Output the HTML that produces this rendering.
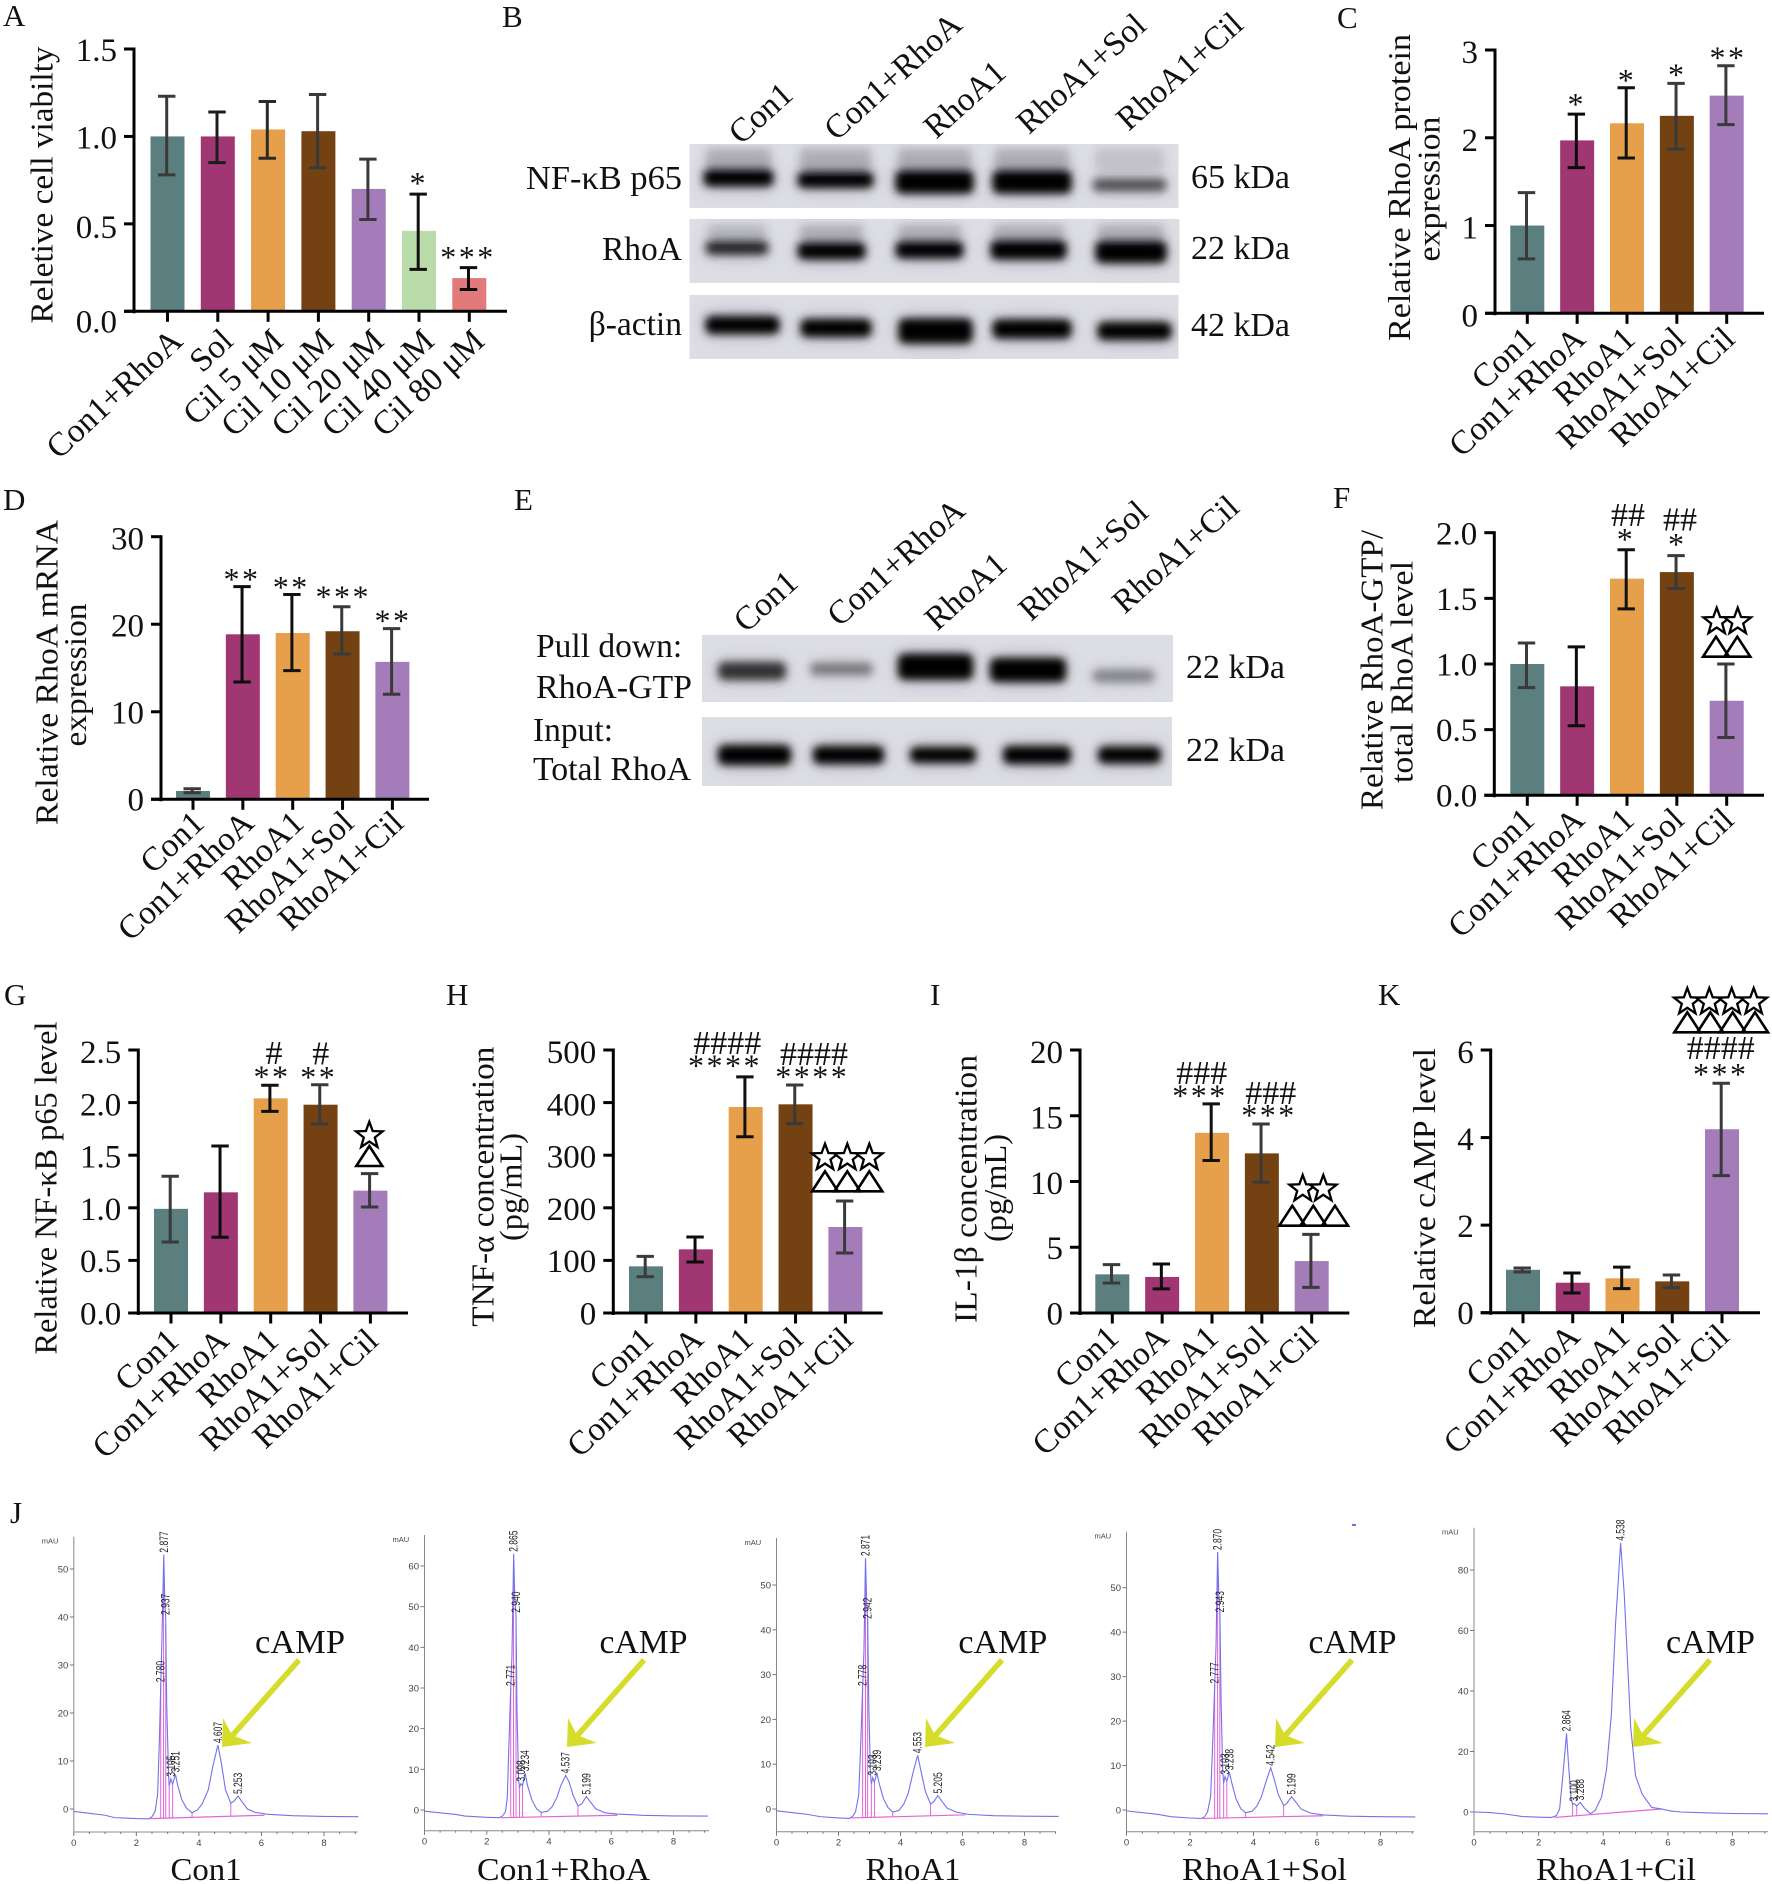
<!DOCTYPE html>
<html lang="en">
<head>
<meta charset="utf-8">
<title>RhoA multi-panel figure</title>
<style>
html,body{margin:0;padding:0;background:#fff;}
svg{display:block;}
text{font-family:"Liberation Serif","Noto Serif CJK SC",serif;fill:#111;}
.letter{font-size:31px;}
.title{font-size:32px;text-anchor:middle;}
.tick{font-size:33px;text-anchor:end;}
.cat{font-size:33.5px;text-anchor:end;}
.ast{font-size:32px;text-anchor:middle;letter-spacing:2.5px;}
.hash{font-size:34px;text-anchor:middle;}
.blot{font-size:33.5px;}
.lane{font-size:33.5px;text-anchor:end;}
.camp{font-size:34px;}
.cond{font-size:32px;text-anchor:middle;}
.hplc{font-family:"Liberation Sans",sans-serif;fill:#444;font-size:9.5px;}
.peak{font-family:"Liberation Sans",sans-serif;fill:#222;font-size:8.5px;}
</style>
</head>
<body>
<svg id="figure" xmlns="http://www.w3.org/2000/svg" width="1772" height="1884" viewBox="0 0 1772 1884">
<defs>
  <filter id="bandBlur" x="-20%" y="-80%" width="140%" height="260%"><feGaussianBlur stdDeviation="4.2"/></filter>
  <filter id="haloBlur" x="-30%" y="-120%" width="160%" height="340%"><feGaussianBlur stdDeviation="9"/></filter>
  <polygon id="star" points="0,-14 3.4,-4.7 13.3,-4.3 5.5,1.8 8.2,11.3 0,5.8 -8.2,11.3 -5.5,1.8 -13.3,-4.3 -3.4,-4.7" fill="#fff" stroke="#000" stroke-width="2.3"/>
  <polygon id="tri" points="0,-20 13,0 -13,0" fill="none" stroke="#000" stroke-width="2.6"/>
</defs>
<rect width="1772" height="1884" fill="#fff"/>

<!-- panel letters -->
<text class="letter" x="3" y="26">A</text>
<text class="letter" x="502" y="27">B</text>
<text class="letter" x="1337" y="28">C</text>
<text class="letter" x="3" y="510">D</text>
<text class="letter" x="514" y="510">E</text>
<text class="letter" x="1333" y="508">F</text>
<text class="letter" x="4" y="1005">G</text>
<text class="letter" x="446" y="1005">H</text>
<text class="letter" x="930" y="1005">I</text>
<text class="letter" x="1378" y="1005">K</text>
<text class="letter" x="10" y="1523">J</text>

<!-- y axis titles -->
<text class="title" transform="translate(52.7,185) rotate(-90)" textLength="277" lengthAdjust="spacingAndGlyphs">Reletive cell viabilty</text>
<text class="title" transform="translate(1410,187.5) rotate(-90)" textLength="307" lengthAdjust="spacingAndGlyphs">Relative RhoA protein</text>
<text class="title" transform="translate(1439.3,189) rotate(-90)" textLength="145" lengthAdjust="spacingAndGlyphs">expression</text>
<text class="title" transform="translate(57.3,672.5) rotate(-90)" textLength="305" lengthAdjust="spacingAndGlyphs">Relative RhoA mRNA</text>
<text class="title" transform="translate(86,675) rotate(-90)" textLength="143" lengthAdjust="spacingAndGlyphs">expression</text>
<text class="title" transform="translate(1382.7,670) rotate(-90)" textLength="280" lengthAdjust="spacingAndGlyphs">Relative RhoA-GTP/</text>
<text class="title" transform="translate(1412.7,672) rotate(-90)" textLength="222" lengthAdjust="spacingAndGlyphs">total RhoA level</text>
<text class="title" transform="translate(56.7,1188) rotate(-90)" textLength="333" lengthAdjust="spacingAndGlyphs">Relative NF-κB p65 level</text>
<text class="title" transform="translate(493.3,1186.7) rotate(-90)" textLength="280" lengthAdjust="spacingAndGlyphs">TNF-α concentration</text>
<text class="title" transform="translate(521.7,1187) rotate(-90)" textLength="108" lengthAdjust="spacingAndGlyphs">(pg/mL)</text>
<text class="title" transform="translate(976.7,1189) rotate(-90)" textLength="268" lengthAdjust="spacingAndGlyphs">IL-1β concentration</text>
<text class="title" transform="translate(1006,1188) rotate(-90)" textLength="108" lengthAdjust="spacingAndGlyphs">(pg/mL)</text>
<text class="title" transform="translate(1435,1188) rotate(-90)" textLength="280" lengthAdjust="spacingAndGlyphs">Relative cAMP level</text>

<!-- groups filled by script -->
<g id="blots"></g>
<g id="charts"></g>
<g id="hplc"></g>

<!-- blot B labels -->
<text class="lane" transform="translate(795,97) rotate(-42)">Con1</text>
<text class="lane" transform="translate(964,27) rotate(-42)">Con1+RhoA</text>
<text class="lane" transform="translate(1008,75) rotate(-42)">RhoA1</text>
<text class="lane" transform="translate(1148,28) rotate(-42)">RhoA1+Sol</text>
<text class="lane" transform="translate(1245,27) rotate(-42)">RhoA1+Cil</text>
<text class="blot" x="682" y="189" text-anchor="end" textLength="156" lengthAdjust="spacingAndGlyphs">NF-κB p65</text>
<text class="blot" x="682" y="260" text-anchor="end">RhoA</text>
<text class="blot" x="682" y="335" text-anchor="end">β-actin</text>
<text class="blot" x="1191" y="188" textLength="99" lengthAdjust="spacingAndGlyphs">65 kDa</text>
<text class="blot" x="1191" y="259" textLength="99" lengthAdjust="spacingAndGlyphs">22 kDa</text>
<text class="blot" x="1191" y="336" textLength="99" lengthAdjust="spacingAndGlyphs">42 kDa</text>

<!-- blot E labels -->
<text class="lane" transform="translate(800,585) rotate(-42)">Con1</text>
<text class="lane" transform="translate(967,513) rotate(-42)">Con1+RhoA</text>
<text class="lane" transform="translate(1009,567) rotate(-42)">RhoA1</text>
<text class="lane" transform="translate(1150,515) rotate(-42)">RhoA1+Sol</text>
<text class="lane" transform="translate(1241,510) rotate(-42)">RhoA1+Cil</text>
<text class="blot" x="536" y="657">Pull down:</text>
<text class="blot" x="536" y="698" textLength="156" lengthAdjust="spacingAndGlyphs">RhoA-GTP</text>
<text class="blot" x="533" y="741">Input:</text>
<text class="blot" x="533" y="780" textLength="158" lengthAdjust="spacingAndGlyphs">Total RhoA</text>
<text class="blot" x="1186" y="678" textLength="99" lengthAdjust="spacingAndGlyphs">22 kDa</text>
<text class="blot" x="1186" y="761" textLength="99" lengthAdjust="spacingAndGlyphs">22 kDa</text>

<!-- significance marks -->
<g>
  <text class="ast" x="418.7" y="194">*</text><text class="ast" x="468" y="268">***</text>
</g>
<g>
  <text class="ast" x="1576.7" y="115">*</text><text class="ast" x="1627" y="91">*</text><text class="ast" x="1677.3" y="85.7">*</text><text class="ast" x="1728" y="68.3">**</text>
</g>
<g>
  <text class="ast" x="242" y="590">**</text><text class="ast" x="291.3" y="598">**</text><text class="ast" x="343.3" y="607.3">***</text><text class="ast" x="393" y="631.7">**</text>
</g>
<g>
  <text class="ast" x="1626" y="550">*</text><text class="ast" x="1677.3" y="555">*</text>
  <text class="hash" x="1628" y="525.8">##</text><text class="hash" x="1680" y="530.5">##</text>
  <use href="#tri" x="1716" y="656.7"/><use href="#tri" x="1737.3" y="656.7"/>
  <use href="#star" x="1716.7" y="621.7"/><use href="#star" x="1737.7" y="621.7"/>
</g>
<g>
  <text class="hash" x="274" y="1064.2">#</text><text class="ast" x="272" y="1087.7">**</text>
  <text class="hash" x="320.7" y="1064.5">#</text><text class="ast" x="318.7" y="1088">**</text>
  <use href="#tri" x="369.3" y="1166"/><use href="#star" x="369.3" y="1135.7"/>
</g>
<g>
  <text class="hash" x="727.3" y="1054.2">####</text><text class="ast" x="725" y="1076.7">****</text>
  <text class="hash" x="814" y="1064.8">####</text><text class="ast" x="812.3" y="1087.3">****</text>
  <use href="#tri" x="825" y="1191.3"/><use href="#tri" x="847.3" y="1191.3"/><use href="#tri" x="869.3" y="1191.3"/>
  <use href="#star" x="825" y="1157.7"/><use href="#star" x="847.3" y="1157.7"/><use href="#star" x="869.3" y="1157.7"/>
</g>
<g>
  <text class="hash" x="1201.7" y="1084.2">###</text><text class="ast" x="1200" y="1106.7">***</text>
  <text class="hash" x="1270.7" y="1103.8">###</text><text class="ast" x="1269" y="1126">***</text>
  <use href="#tri" x="1292.3" y="1225.7"/><use href="#tri" x="1313.3" y="1225.7"/><use href="#tri" x="1335" y="1225.7"/>
  <use href="#star" x="1302.7" y="1189"/><use href="#star" x="1323.3" y="1189"/>
</g>
<g>
  <text class="hash" x="1720.7" y="1058.8">####</text><text class="ast" x="1720.7" y="1085">***</text>
  <use href="#tri" x="1687.3" y="1032.3"/><use href="#tri" x="1710.3" y="1032.3"/><use href="#tri" x="1732.7" y="1032.3"/><use href="#tri" x="1755" y="1032.3"/>
  <use href="#star" x="1687.3" y="1002"/><use href="#star" x="1709.3" y="1002"/><use href="#star" x="1731.7" y="1002"/><use href="#star" x="1753.7" y="1002"/>
</g>

<!-- chromatogram annotations -->
<text class="camp" x="255" y="1653" textLength="90" lengthAdjust="spacingAndGlyphs">cAMP</text>
<text class="camp" x="599.5" y="1653" textLength="88" lengthAdjust="spacingAndGlyphs">cAMP</text>
<text class="camp" x="958.4" y="1653" textLength="89" lengthAdjust="spacingAndGlyphs">cAMP</text>
<text class="camp" x="1308.5" y="1653" textLength="88" lengthAdjust="spacingAndGlyphs">cAMP</text>
<text class="camp" x="1666" y="1653" textLength="89" lengthAdjust="spacingAndGlyphs">cAMP</text>
<text class="cond" x="206" y="1880" textLength="71" lengthAdjust="spacingAndGlyphs">Con1</text>
<text class="cond" x="563.5" y="1880" textLength="173" lengthAdjust="spacingAndGlyphs">Con1+RhoA</text>
<text class="cond" x="913" y="1880" textLength="95" lengthAdjust="spacingAndGlyphs">RhoA1</text>
<text class="cond" x="1264.5" y="1880" textLength="165" lengthAdjust="spacingAndGlyphs">RhoA1+Sol</text>
<text class="cond" x="1616" y="1880" textLength="160" lengthAdjust="spacingAndGlyphs">RhoA1+Cil</text>
<rect x="1352" y="1524" width="4" height="2" fill="#6a6af0"/>
</svg>

<script>
// ---------- bar chart data ----------
const catsFive = ['Con1','Con1+RhoA','RhoA1','RhoA1+Sol','RhoA1+Cil'];
const catsA = ['Con1+RhoA','Sol','Cil 5 μM','Cil 10 μM','Cil 20 μM','Cil 40 μM','Cil 80 μM'];

const ticksA = ['0.0','0.5','1.0','1.5'];
const meanA = [1.0,1.0,1.04,1.03,0.70,0.46,0.19];
const upperA = [1.23,1.14,1.20,1.24,0.87,0.67,0.25];
const lowerA = [0.78,0.85,0.875,0.82,0.525,0.24,0.125];

const ticksC = ['0','1','2','3'];
const meanC = [1.0,1.97,2.165,2.25,2.48];
const upperC = [1.375,2.27,2.57,2.62,2.82];
const lowerC = [0.62,1.66,1.77,1.87,2.15];

const ticksD = ['0','10','20','30'];
const meanD = [0.95,18.85,19.0,19.2,15.7];
const upperD = [1.2,24.3,23.4,22.0,19.5];
const lowerD = [0.75,13.4,14.7,16.6,12.0];

const ticksF = ['0.0','0.5','1.0','1.5','2.0'];
const meanF = [1.0,0.83,1.65,1.70,0.72];
const upperF = [1.16,1.13,1.87,1.825,1.0];
const lowerF = [0.82,0.53,1.42,1.575,0.44];

const ticksG = ['0.0','0.5','1.0','1.5','2.0','2.5'];
const meanG = [0.99,1.147,2.04,1.98,1.163];
const upperG = [1.30,1.587,2.165,2.17,1.325];
const lowerG = [0.675,0.72,1.917,1.797,1.008];

const ticksH = ['0','100','200','300','400','500'];
const meanH = [88.7,121,391.6,396.7,163.5];
const upperH = [107.7,144.5,449,433.5,213];
const lowerH = [69,97,335,360,114];

const ticksI = ['0','5','10','15','20'];
const meanI = [2.94,2.74,13.7,12.14,3.95];
const upperI = [3.68,3.73,15.9,14.37,5.98];
const lowerI = [2.28,1.83,11.6,9.94,1.95];

const ticksK = ['0','2','4','6'];
const meanK = [0.98,0.685,0.785,0.716,4.19];
const upperK = [1.02,0.906,1.04,0.86,5.24];
const lowerK = [0.93,0.45,0.55,0.57,3.13];

// ---------- chromatogram data (retention time, mAU) ----------
const trace1Time = [0,.5,1,1.3,2,2.4,2.5,2.6,2.68,2.74,2.78,2.82,2.877,2.91,2.937,2.97,3.03,3.05,3.105,3.16,3.251,3.32,3.45,3.6,3.78,3.95,4.1,4.3,4.45,4.607,4.72,4.85,5.02,5.12,5.253,5.38,5.55,5.8,6.2,7,8,9.1];
const trace1Signal = [-.5,-.9,-1.3,-1.8,-2,-2.05,-1.6,-.5,3,15,26,36,53,43,40,22,7,4.8,6.3,5.2,7.2,5,2,.2,-.8,-.2,1,4,9,13.3,9.5,4,1.2,1.6,2.7,1.5,0,-.7,-1.1,-1.4,-1.55,-1.6];
const trace2Time = [0,.5,1,1.3,2,2.4,2.5,2.6,2.66,2.72,2.771,2.81,2.865,2.9,2.94,2.97,3.02,3.05,3.098,3.15,3.234,3.31,3.45,3.6,3.75,3.95,4.1,4.25,4.38,4.537,4.65,4.78,4.93,5.05,5.199,5.33,5.5,5.8,6.2,7,8,9.1];
const trace2Signal = [-.3,-.7,-1.1,-1.5,-1.8,-1.9,-1.5,-.5,3,18,30,38,63,52,48,25,8,5.5,6.5,6,9,6,2.5,.3,-.6,-.3,.8,3,6,8.5,6.8,3.5,1,1.5,3.3,2,.3,-.7,-1,-1.3,-1.45,-1.5];
const trace3Time = [0,.5,1,1.4,2,2.35,2.45,2.55,2.65,2.72,2.778,2.82,2.871,2.91,2.942,2.98,3.03,3.06,3.103,3.16,3.239,3.32,3.45,3.6,3.75,3.95,4.1,4.25,4.4,4.553,4.66,4.8,4.97,5.07,5.205,5.33,5.5,5.8,6.2,7,8,9.1];
const trace3Signal = [-.4,-.8,-1.2,-1.7,-2,-2.1,-1.7,-.6,3,15,27,35,56,46,42,22,8,5.5,7,6,8,5.5,2.3,.3,-.7,-.3,1,3.5,8,12,8.5,4,1.1,1.6,3,1.8,.2,-.7,-1.2,-1.5,-1.6,-1.65];
const trace4Time = [0,.5,1,1.4,2,2.35,2.45,2.55,2.65,2.72,2.777,2.82,2.87,2.91,2.943,2.98,3.03,3.06,3.103,3.16,3.238,3.32,3.45,3.6,3.75,3.95,4.1,4.25,4.4,4.542,4.65,4.78,4.95,5.05,5.199,5.33,5.5,5.8,6.2,7,8,9.1];
const trace4Signal = [-.2,-.6,-1,-1.5,-1.8,-1.9,-1.6,-.5,3,16,28,37,58,48,44,24,9,6,7.5,6.5,8.5,6,2.5,.3,-.6,-.3,.8,3,6.5,9.5,7,3.5,1,1.5,3,1.8,.2,-.7,-1.1,-1.4,-1.5,-1.55];
const trace5Time = [0,.5,1,1.5,2,2.4,2.55,2.65,2.75,2.864,2.93,3,3.05,3.1,3.18,3.288,3.4,3.6,3.75,3.95,4.1,4.25,4.38,4.538,4.65,4.75,4.85,5,5.2,5.5,5.8,6.1,6.4,7.3,8,9.1];
const trace5Signal = [0,-.2,-.7,-1.5,-1.7,-1.8,-1.2,1,12,26,15,5,2.5,2.8,2,3.2,1.5,-.6,.5,5,14,32,62,89,72,50,28,12,6,1.5,1,.3,0,-.3,-.5,-.6];

const peak1Labels = ['2.780','2.877','2.937','3.105','3.251','4.607','5.253'];
const peak1Times = [2.78,2.877,2.937,3.105,3.251,4.607,5.253];
const peak1Heights = [26,53,40,6.3,7.2,13.3,2.7];
const peak2Labels = ['2.771','2.865','2.940','3.098','3.234','4.537','5.199'];
const peak2Times = [2.771,2.865,2.94,3.098,3.234,4.537,5.199];
const peak2Heights = [30,63,48,6.5,9,8.5,3.3];
const peak3Labels = ['2.778','2.871','2.942','3.103','3.239','4.553','5.205'];
const peak3Times = [2.778,2.871,2.942,3.103,3.239,4.553,5.205];
const peak3Heights = [27,56,42,7,8,12,3];
const peak4Labels = ['2.777','2.870','2.943','3.103','3.238','4.542','5.199'];
const peak4Times = [2.777,2.87,2.943,3.103,3.238,4.542,5.199];
const peak4Heights = [28,58,44,7.5,8.5,9.5,3];
const peak5Labels = ['2.864','3.100','3.288','4.538'];
const peak5Times = [2.864,3.1,3.288,4.538];
const peak5Heights = [26,2.8,3.2,89];

const drop1Times = [2.78,2.87,2.94,3.05,3.16,3.78,5.02];
const drop2Times = [2.771,2.86,2.94,3.05,3.15,3.75,4.93];
const drop3Times = [2.778,2.87,2.94,3.06,3.16,3.75,4.97];
const drop4Times = [2.777,2.87,2.94,3.06,3.16,3.75,4.95];
const drop5Times = [3.05,3.18,3.6];
const integ1Times = [2.45,6.1];
const integ1Values = [-2,-1.3];
const integ2Times = [2.45,6.2];
const integ2Values = [-1.9,-1.3];
const integ3Times = [2.4,6.1];
const integ3Values = [-2,-1.3];
const integ4Times = [2.4,6.2];
const integ4Values = [-1.9,-1.3];
const integ5Times = [2.5,5.8];
const integ5Values = [-1.8,1];

const yTicks1 = [0,10,20,30,40,50];
const yTicks2 = [0,10,20,30,40,50,60];
const yTicks3 = [0,10,20,30,40,50];
const yTicks4 = [0,10,20,30,40,50];
const yTicks5 = [0,20,40,60,80];
const xTicksHplc = [0,2,4,6,8];

// ---------- helpers ----------
const NS = 'http://www.w3.org/2000/svg';
function mk(parent, tag, attrs, name, text) {
  const el = document.createElementNS(NS, tag);
  for (const k in attrs) el.setAttribute(k, attrs[k]);
  
  
  if (text !== undefined) el.textContent = text;
  parent.appendChild(el);
  return el;
}

// ---------- bar charts ----------
const paletteFive = ['#5b7f7e','#a03672','#e69f4a','#744212','#a47cb9'];
const paletteA = ['#5b7f7e','#a03672','#e69f4a','#744212','#a47cb9','#b9dcaa','#e27a7b'];
const errColorsFive = ['#3a3a3a','#0c0c0c','#111','#3a3a3a','#3a3a3a'];
const errColorsA = ['#3a3a3a','#1c1c1c','#2a2a2a','#3a3a3a','#3a3a3a','#111','#0c0c0c'];

function drawBars(id, g, o, cats, mean, up, lo, ticks) {
  const root = mk(g, 'g', {}, 'panel-' + id + '-chart');
  const xScale = i => o.first + o.step * i;
  const yScale = v => o.y0 - (v / o.max) * (o.y0 - o.top);
  const pal = mean.length === 7 ? paletteA : paletteFive;
  const errs = mean.length === 7 ? errColorsA : errColorsFive;
  mean.forEach((v, i) => {
    mk(root, 'rect', {x: xScale(i) - 17, y: yScale(v), width: 34, height: o.y0 - yScale(v), fill: pal[i]}, id + '-bar-' + cats[i]);
  });
  mean.forEach((v, i) => {
    const c = errs[i], ex = xScale(i) - 0.8;
    const eg = mk(root, 'g', {stroke: c, 'stroke-width': 3, fill: 'none'}, id + '-error-bar-' + cats[i]);
    mk(eg, 'line', {x1: ex, x2: ex, y1: yScale(up[i]), y2: yScale(lo[i])}, id + '-error-stem');
    mk(eg, 'line', {x1: ex - 8.7, x2: ex + 8.7, y1: yScale(up[i]), y2: yScale(up[i])}, id + '-error-cap-upper');
    mk(eg, 'line', {x1: ex - 8.7, x2: ex + 8.7, y1: yScale(lo[i]), y2: yScale(lo[i])}, id + '-error-cap-lower');
  });
  mk(root, 'line', {x1: o.axis, x2: o.axis, y1: o.top - 1.5, y2: o.y0 + 2, stroke: '#000', 'stroke-width': 3}, id + '-y-axis');
  mk(root, 'line', {x1: o.axis - 10, x2: o.end, y1: o.y0, y2: o.y0, stroke: '#000', 'stroke-width': 3}, id + '-x-axis');
  ticks.forEach((t, i) => {
    const v = parseFloat(t), y = yScale(v);
    mk(root, 'line', {x1: o.axis - 10, x2: o.axis, y1: y, y2: y, stroke: '#000', 'stroke-width': 3}, id + '-y-tick');
    const off = o.offs ? o.offs[i] : o.offBottom + (o.offTop - o.offBottom) * (i / (ticks.length - 1));
    mk(root, 'text', {class: 'tick', x: o.axis - 17, y: y + 11 + off}, id + '-y-tick-label', t);
  });
  cats.forEach((c, i) => {
    const x = xScale(i);
    mk(root, 'line', {x1: x, x2: x, y1: o.y0, y2: o.y0 + 10.5, stroke: '#000', 'stroke-width': 3}, id + '-x-tick');
    mk(root, 'text', {class: 'cat', transform: 'translate(' + (x + o.ldx) + ',' + (o.y0 + o.ldy) + ') rotate(-43)'}, id + '-x-label', c);
  });
}

const chartsG = document.getElementById('charts');
drawBars('a', chartsG, {axis:134,y0:311.3,top:49,max:1.5,end:507,first:167.5,step:50.3,offs:[10,3,1.2,1],ldx:17,ldy:32}, catsA, meanA, upperA, lowerA, ticksA);
drawBars('c', chartsG, {axis:1495,y0:313.3,top:50,max:3,end:1764,first:1527.3,step:49.85,offTop:2,offBottom:2,ldx:10,ldy:28}, catsFive, meanC, upperC, lowerC, ticksC);
drawBars('d', chartsG, {axis:161,y0:799.3,top:536.7,max:30,end:429,first:193,step:49.85,offTop:2,offBottom:0,ldx:13,ldy:26}, catsFive, meanD, upperD, lowerD, ticksD);
drawBars('f', chartsG, {axis:1494.3,y0:795.3,top:532.7,max:2,end:1764,first:1527.3,step:49.85,offTop:1,offBottom:0,ldx:9,ldy:27}, catsFive, meanF, upperF, lowerF, ticksF);
drawBars('g', chartsG, {axis:138.3,y0:1313,top:1050,max:2.5,end:408,first:171,step:49.85,offTop:2,offBottom:0.5,ldx:9.7,ldy:30}, catsFive, meanG, upperG, lowerG, ticksG);
drawBars('h', chartsG, {axis:613.3,y0:1313,top:1050,max:500,end:882.7,first:646,step:49.85,offTop:2,offBottom:0.5,ldx:9.3,ldy:28.7}, catsFive, meanH, upperH, lowerH, ticksH);
drawBars('i', chartsG, {axis:1080,y0:1313,top:1050,max:20,end:1349.3,first:1112.3,step:49.85,offTop:2,offBottom:0.5,ldx:8.3,ldy:27}, catsFive, meanI, upperI, lowerI, ticksI);
drawBars('k', chartsG, {axis:1490.7,y0:1312.7,top:1050,max:6,end:1760,first:1523,step:49.75,offTop:2,offBottom:0.5,ldx:9,ldy:26}, catsFive, meanK, upperK, lowerK, ticksK);

// ---------- western blots ----------
const blotStrips = [
  {name:'b-nfkb-strip',x:692,y:144,w:489,h:64,shift:-2.5,smear:[148,24,.28],bands:[[708,774,178,15,1],[802,874,180,14,1],[900,974,182,21,1],[997,1072,182,21,1],[1097,1167,185,11,.6]]},
  {name:'b-rhoa-strip',x:692,y:219,w:490,h:64,shift:-2.5,smear:[224,18,.26],bands:[[710,769,248,12,.8],[802,866,251,15,1],[900,964,250,15,1],[995,1067,250,17,1],[1100,1167,252,20,1]]},
  {name:'b-actin-strip',x:692,y:295,w:489,h:64,shift:-2.5,smear:[0,0,0],bands:[[710,780,325,16,1],[805,872,328,16,1],[903,973,331,23,1],[997,1072,329,17,1],[1102,1172,331,16,1]]},
  {name:'e-pulldown-strip',x:705,y:635,w:471,h:67,shift:-3,smear:[0,0,0],bands:[[723,787,671,16,.75],[815,874,669,11,.42],[903,974,666.7,24,1],[995,1067,670,22,1],[1097,1156,676,11,.36]]},
  {name:'e-input-strip',x:705,y:717,w:470,h:69,shift:-3,smear:[0,0,0],bands:[[723,792,755,18,1],[818,885,755,16,1],[915,977,755,14,1],[1008,1072,755,16,1],[1103,1162,755,15,1]]}
];
const blotsG = document.getElementById('blots');
const clipDefs = document.querySelector('defs');
blotStrips.forEach((s, idx) => {
  const clip = document.createElementNS(NS, 'clipPath');
  clip.setAttribute('id', 'stripClip' + idx);
  const cr = document.createElementNS(NS, 'rect');
  cr.setAttribute('x', s.x); cr.setAttribute('y', s.y); cr.setAttribute('width', s.w); cr.setAttribute('height', s.h);
  clip.appendChild(cr);
  clipDefs.appendChild(clip);
  const outer = mk(blotsG, 'g', {transform: 'translate(' + s.shift + ',0)'}, s.name + '-position');
  const strip = mk(outer, 'g', {'clip-path': 'url(#stripClip' + idx + ')'}, s.name);
  mk(strip, 'rect', {x: s.x, y: s.y, width: s.w, height: s.h, fill: '#dddde4'}, s.name + '-membrane');
  const haloG = mk(strip, 'g', {filter: 'url(#haloBlur)'}, s.name + '-halo');
  s.bands.forEach(b => {
    mk(haloG, 'rect', {x: b[0], y: b[2] - b[3] / 2, width: b[1] - b[0], height: b[3], rx: 6, fill: '#3a3a44', opacity: 0.38 * b[4]}, 'band-halo');
  });
  const bandsG = mk(strip, 'g', {filter: 'url(#bandBlur)'}, s.name + '-bands');
  s.bands.forEach(b => {
    if (s.smear[2] > 0) {
      mk(bandsG, 'rect', {x: b[0], y: s.smear[0], width: b[1] - b[0], height: s.smear[1], rx: 6, fill: '#3a3a40', opacity: s.smear[2] * b[4]}, 'band-smear');
    }
    mk(bandsG, 'rect', {x: b[0] - 2, y: b[2] - b[3] / 2 - 1, width: b[1] - b[0] + 4, height: b[3] + 2, rx: 6, fill: '#000004', opacity: b[4]}, 'protein-band');
  });
});

// ---------- chromatograms ----------
function drawHplc(id, g, o, time, signal, ticks, peakT, peakH, peakL, drops, iT, iV) {
  const root = mk(g, 'g', {}, 'hplc-' + id);
  const xScale = t => o.x0 + (o.x8 - o.x0) * t / 8;
  const yScale = v => o.zero - (o.zero - o.refPix) * v / o.refVal;
  const signalAt = t => {
    for (let i = 1; i < time.length; i++) {
      if (t <= time[i]) {
        const f = (t - time[i-1]) / (time[i] - time[i-1]);
        return signal[i-1] + f * (signal[i] - signal[i-1]);
      }
    }
    return signal[signal.length - 1];
  };
  const integAt = t => iV[0] + (iV[1] - iV[0]) * (t - iT[0]) / (iT[1] - iT[0]);
  mk(root, 'line', {x1: o.x0, x2: o.x0, y1: o.axTop, y2: o.axBottom, stroke: '#888', 'stroke-width': 1}, id + '-y-axis');
  mk(root, 'line', {x1: o.x0, x2: o.end, y1: o.axBottom, y2: o.axBottom, stroke: '#888', 'stroke-width': 1}, id + '-x-axis');
  ticks.forEach(v => {
    const y = yScale(v);
    mk(root, 'line', {x1: o.x0 - 4, x2: o.x0, y1: y, y2: y, stroke: '#777', 'stroke-width': 1}, id + '-y-tick');
    mk(root, 'text', {class: 'hplc', x: o.x0 - 5.5, y: y + 3.5, 'text-anchor': 'end'}, id + '-y-tick-label', String(v));
  });
  for (let t = 0; t <= 9; t += 0.5) {
    const major = Number.isInteger(t / 2);
    mk(root, 'line', {x1: xScale(t), x2: xScale(t), y1: o.axBottom, y2: o.axBottom + (major ? 4 : 2), stroke: '#777', 'stroke-width': 1}, id + '-x-tick');
  }
  xTicksHplc.forEach(t => {
    mk(root, 'text', {class: 'hplc', x: xScale(t), y: o.axBottom + 14, 'text-anchor': 'middle'}, id + '-x-tick-label', String(t));
  });
  mk(root, 'text', {class: 'hplc', x: o.x0 - 32, y: o.axTop + 7, style: 'font-size:7.5px'}, id + '-y-unit', 'mAU');
  drops.forEach(t => {
    mk(root, 'line', {x1: xScale(t), x2: xScale(t), y1: yScale(integAt(t)), y2: yScale(signalAt(t)), stroke: '#e464d8', 'stroke-width': 1}, id + '-peak-drop-line');
  });
  mk(root, 'polyline', {points: iT.map((t, i) => xScale(t) + ',' + yScale(iV[i])).join(' '), fill: 'none', stroke: '#e464d8', 'stroke-width': 1.2}, id + '-integration-baseline');
  mk(root, 'polyline', {points: time.map((t, i) => xScale(t) + ',' + yScale(signal[i])).join(' '), fill: 'none', stroke: '#7272ee', 'stroke-width': 1.1}, id + '-signal-trace');
  peakT.forEach((t, i) => {
    const px = xScale(t) + 4, py = yScale(peakH[i]) - 2;
    mk(root, 'text', {class: 'peak', transform: 'translate(' + px + ',' + py + ') rotate(-90) scale(1,1.4)'}, id + '-peak-label', peakL[i]);
  });
  const tx = o.tip;
  mk(root, 'line', {x1: tx + 77, y1: 1660, x2: tx + 9, y2: 1737, stroke: '#d6dc2a', 'stroke-width': 5.5}, id + '-arrow-shaft');
  mk(root, 'polygon', {points: tx + ',1747 ' + (tx + 1) + ',1718 ' + (tx + 10) + ',1735 ' + (tx + 30) + ',1743', fill: '#d6dc2a'}, id + '-arrow-head');
}
const hplcG = document.getElementById('hplc');
drawHplc('con1', hplcG, {x0:73.8,x8:324,end:357.7,zero:1809,refVal:50,refPix:1569,axTop:1536.7,axBottom:1832,tip:222}, trace1Time, trace1Signal, yTicks1, peak1Times, peak1Heights, peak1Labels, drop1Times, integ1Times, integ1Values);
drawHplc('con1-rhoa', hplcG, {x0:424.5,x8:673.5,end:709,zero:1810,refVal:60,refPix:1566,axTop:1535,axBottom:1830.7,tip:567}, trace2Time, trace2Signal, yTicks2, peak2Times, peak2Heights, peak2Labels, drop2Times, integ2Times, integ2Values);
drawHplc('rhoa1', hplcG, {x0:776.5,x8:1024.5,end:1056,zero:1809,refVal:50,refPix:1585,axTop:1538,axBottom:1831.7,tip:925}, trace3Time, trace3Signal, yTicks3, peak3Times, peak3Heights, peak3Labels, drop3Times, integ3Times, integ3Values);
drawHplc('rhoa1-sol', hplcG, {x0:1126.5,x8:1380.5,end:1414,zero:1810,refVal:50,refPix:1587.7,axTop:1531.7,axBottom:1831.7,tip:1275}, trace4Time, trace4Signal, yTicks4, peak4Times, peak4Heights, peak4Labels, drop4Times, integ4Times, integ4Values);
drawHplc('rhoa1-cil', hplcG, {x0:1474,x8:1732.5,end:1768,zero:1812,refVal:80,refPix:1570,axTop:1527.7,axBottom:1831.7,tip:1633}, trace5Time, trace5Signal, yTicks5, peak5Times, peak5Heights, peak5Labels, drop5Times, integ5Times, integ5Values);
</script>
</body>
</html>
